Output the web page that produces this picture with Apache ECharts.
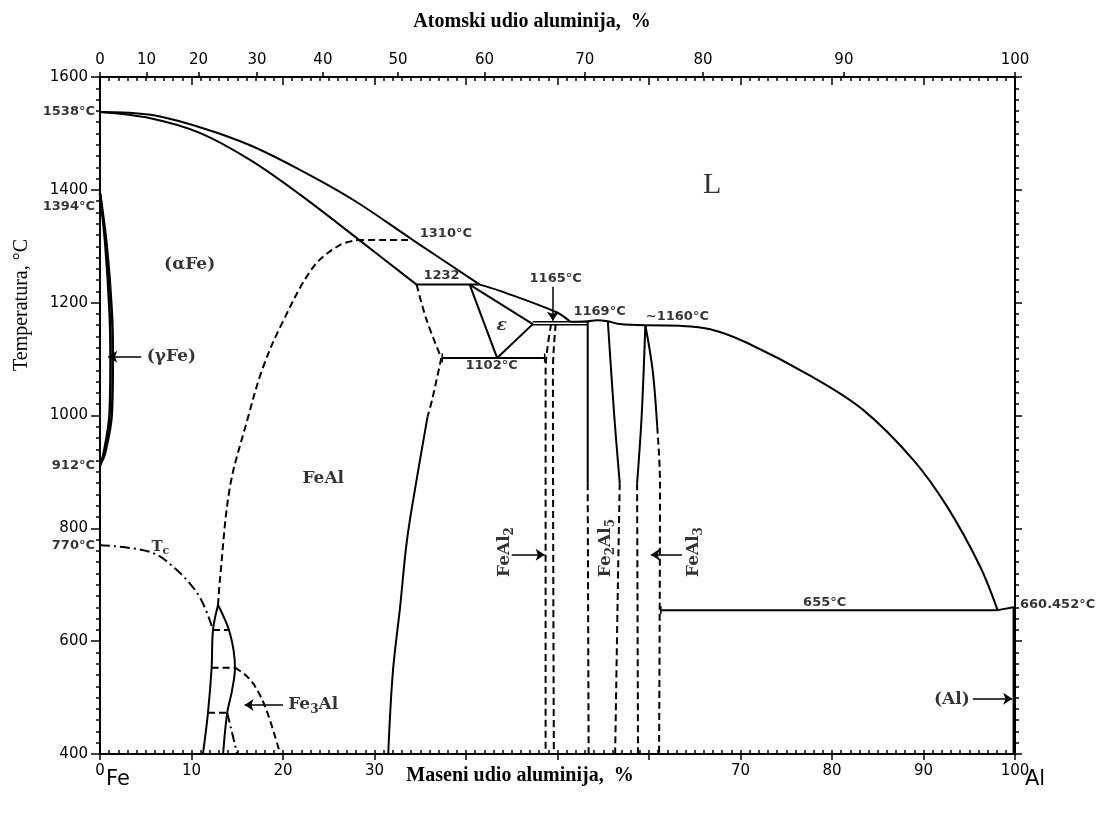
<!DOCTYPE html>
<html>
<head>
<meta charset="utf-8">
<title>Fe-Al fazni dijagram</title>
<script src="https://cdn.jsdelivr.net/npm/echarts@6/dist/echarts.min.js"></script>
<style>
html, body { margin: 0; background: #fff; }
#chart { width: 1111px; height: 814px; }
</style>
</head>
<body>
<div id="chart"></div>
<script>
// mass % Al on x, temperature in °C on y
const liquidusFe = [[0, 1538], [5.5, 1533], [10.9, 1511], [16.4, 1479], [21.9, 1435], [27.7, 1382], [34.2, 1311], [41.5, 1232]];
const liquidusEps = [[41.5, 1232], [43.7, 1221], [49.9, 1183], [51.4, 1166]];
const liquidusMid = [[51.4, 1166], [53.3, 1167], [54.3, 1169], [55.5, 1167], [56.8, 1162], [59.6, 1160]];
const liquidusAl = [[59.6, 1160], [63.4, 1159], [66.7, 1153], [70.7, 1129], [77.9, 1068], [83.4, 1010], [88.9, 921], [92.6, 838], [96.2, 732], [98.1, 655]];
const solidusFe = [[0, 1538], [5.5, 1527], [10.9, 1501], [16.4, 1453], [21.9, 1391], [28.1, 1314], [34.6, 1232]];

const line1310 = [[28.1, 1311], [34.2, 1311]];
const line1232 = [[34.6, 1232], [41.5, 1232]];
const line1102 = [[37.4, 1102], [48.6, 1102]];
const line1165 = [[47.3, 1166], [53.3, 1166]];
const line1161 = [[47.3, 1161], [53.3, 1161]];
const line655 = [[61.3, 655], [98.1, 655]];
const meltAl = [[98.1, 655], [100, 660.452]];
const solvusAl = [[99.9, 400], [99.9, 660.452]];

const epsLeft = [[40.4, 1232], [43.4, 1102]];
const epsRight = [[43.4, 1102], [47.3, 1162]];
const epsTop = [[40.4, 1232], [47.3, 1162]];

const feAlUpperDash = [[34.6, 1232], [35.7, 1169], [37.3, 1102]];
const feAlLowerDash = [[37.3, 1102], [36.3, 1028], [35.8, 998]];
const feAlSolid = [[35.8, 998], [34.6, 886], [33.55, 779], [32.8, 661], [32.0, 544], [31.5, 400]];

const orderDome = [[12.9, 664], [13.1, 708], [14.2, 873], [16.1, 992], [17.7, 1080], [19.7, 1157], [23.3, 1263], [26.2, 1302], [28.1, 1311]];

const fe3AlLeft = [[12.9, 664], [12.35, 620], [12.2, 553], [11.8, 473], [11.25, 400]];
const fe3AlRight = [[12.9, 664], [14.2, 614], [14.75, 553], [14.4, 510], [13.9, 473], [13.45, 400]];
const fe3AlDash1 = [[12.35, 620], [14.15, 620]];
const fe3AlDash2 = [[12.2, 553], [14.75, 553]];
const fe3AlCurve = [[14.75, 553], [16.1, 537], [17.2, 513], [18.3, 473], [19.7, 400]];
const fe3AlDash3 = [[11.8, 473], [13.9, 473]];
const curieLine = [[0, 770], [5.5, 758], [8.4, 726], [10.9, 678], [12.35, 620]];
const curieLower = [[13.9, 473], [15.0, 400]];

const gammaOuter = [[0, 1394], [0.75, 1299], [1.3, 1182], [1.4, 1104], [1.3, 1004], [0.55, 933], [0, 912]];
const gammaInner = [[0, 1394], [0.6, 1299], [1.05, 1182], [1.15, 1104], [1.05, 1004], [0.4, 933], [0, 912]];

const feAl2Left = [[49.3, 1162], [48.9, 1120], [48.7, 1080], [48.7, 400]];
const feAl2Right = [[49.8, 1162], [49.6, 1120], [49.5, 1080], [49.6, 400]];
const fe2Al5LeftSolid = [[53.3, 1166], [53.3, 880]];
const fe2Al5LeftDash = [[53.3, 880], [53.4, 400]];
const fe2Al5RightSolid = [[55.5, 1167], [56.2, 1000], [56.8, 880]];
const fe2Al5RightDash = [[56.8, 880], [56.6, 700], [56.3, 400]];
const feAl3LeftSolid = [[59.6, 1160], [59.2, 1000], [58.7, 880]];
const feAl3LeftDash = [[58.7, 880], [58.8, 400]];
const feAl3RightSolid = [[59.6, 1160], [60.4, 1080], [60.9, 980]];
const feAl3RightDash = [[60.9, 980], [61.2, 880], [61.1, 400]];

const endTicks = [
  [[37.4, 1094], [37.4, 1110]],
  [[48.6, 1094], [48.6, 1110]],
  [[61.3, 648], [61.3, 662]]
];

// arrows: from [w, T] to [w, T]
const arrows = [
  [4.5, 1104, 0.9, 1104],
  [20.0, 487, 15.8, 487],
  [95.4, 498, 99.7, 498],
  [45.0, 753, 48.6, 753],
  [63.6, 753, 60.2, 753],
  [49.5, 1228, 49.5, 1168]
];

// text, w, T, position, kind, offset, rotate
const annotations = [
  ['1538°C', 0, 1538, 'left', 'num', [0, 0], 0],
  ['1394°C', 0, 1394, 'left', 'num', [0, 13], 0],
  ['912°C', 0, 912, 'left', 'num', [0, 0], 0],
  ['770°C', 0, 770, 'left', 'num', [0, 0], 0],
  ['660.452°C', 100, 660.452, 'right', 'num', [0, -2], 0],
  ['1310°C', 34.4, 1311, 'right', 'num', [0, -6], 0],
  ['1232', 34.8, 1232, 'right', 'num', [0, -9], 0],
  ['1165°C', 49.8, 1242, 'inside', 'num', [0, 0], 0],
  ['1102°C', 42.8, 1089, 'inside', 'num', [0, 0], 0],
  ['1169°C', 54.6, 1185, 'inside', 'num', [0, 0], 0],
  ['~1160°C', 63.1, 1176, 'inside', 'num', [0, 0], 0],
  ['655°C', 79.2, 669, 'inside', 'num', [0, 0], 0],
  ['L', 66.9, 1409, 'inside', 'big', [0, 0], 0],
  ['(αFe)', 9.8, 1267, 'inside', 'phase', [0, 0], 0],
  ['(γFe)', 7.8, 1104, 'inside', 'phase', [0, 0], 0],
  ['FeAl', 24.4, 889, 'inside', 'phase', [0, 0], 0],
  ['ε', 43.9, 1160, 'inside', 'eps', [0, 0], 0],
  ['T{s|c}', 6.6, 767, 'inside', 'tc', [0, 0], 0],
  ['Fe{s|3}Al', 23.3, 487, 'inside', 'phase', [0, 0], 0],
  ['(Al)', 93.1, 496, 'inside', 'phase', [0, 0], 0],
  ['FeAl{s|2}', 44.2, 758, 'inside', 'phase', [0, 0], 90],
  ['Fe{s|2}Al{s|5}', 55.3, 765, 'inside', 'phase', [0, 0], 90],
  ['FeAl{s|3}', 64.9, 758, 'inside', 'phase', [0, 0], 90]
];

// bottom tick labels hidden behind the axis title
const massHiddenLabels = [40, 50, 60];

// top axis: atomic % Al, placed at the equivalent mass %
const atomicLabels = [0, 10, 20, 30, 40, 50, 60, 70, 80, 90, 100];
const M_AL = 26.98, M_FE = 55.845;
const atomicPos = atomicLabels.map(a => 100 * a * M_AL / (a * M_AL + (100 - a) * M_FE));

const DASH = [7, 4];
const DASHDOT = [10, 4, 2, 4];
const black = '#000';

function curve(data, dash, smooth, width) {
  return {
    type: 'line',
    data: data,
    smooth: smooth ? 0.35 : false,
    showSymbol: false,
    symbol: 'none',
    silent: true,
    lineStyle: { color: black, width: width || 2, type: dash || 'solid' },
    z: 3
  };
}

const subStyle = { fontFamily: 'DejaVu Serif', fontWeight: 'bold', fontSize: 12, color: black, padding: [10, 0, 0, 0] };
const kinds = {
  num: { fontFamily: 'DejaVu Sans', fontSize: 13, fontWeight: 'bold', color: black },
  phase: { fontFamily: 'DejaVu Serif', fontSize: 17, fontWeight: 'bold', color: black, rich: { s: subStyle } },
  big: { fontFamily: 'Liberation Serif', fontSize: 30, color: black },
  eps: { fontFamily: 'DejaVu Serif', fontSize: 17, fontStyle: 'italic', fontWeight: 'bold', color: black },
  tc: { fontFamily: 'DejaVu Serif', fontSize: 15, fontWeight: 'bold', color: black, rich: { s: Object.assign({}, subStyle, { fontSize: 11, padding: [9, 0, 0, 0] }) } }
};

const labelData = annotations.map(a => ({
  value: [a[1], a[2]],
  label: Object.assign({
    show: true,
    formatter: a[0],
    position: a[3],
    distance: 5,
    offset: a[5],
    rotate: a[6]
  }, kinds[a[4]])
}));

const series = [
  curve(liquidusFe, null, true),
  curve(liquidusEps, null, true),
  curve(liquidusMid, null, true),
  curve(liquidusAl, null, true),
  curve(solidusFe, null, true),
  curve(line1310, DASH),
  curve(line1232),
  curve(line1102),
  curve(line1165, null, false, 1.5),
  curve(line1161, null, false, 1.5),
  curve(line655),
  curve(meltAl),
  curve(solvusAl, null, false, 3),
  curve(epsLeft),
  curve(epsRight),
  curve(epsTop),
  curve(feAlUpperDash, DASH, true),
  curve(feAlLowerDash, DASH, true),
  curve(feAlSolid, null, true),
  curve(orderDome, DASH, true),
  curve(fe3AlLeft, null, true),
  curve(fe3AlRight, null, true),
  curve(fe3AlDash1, DASH),
  curve(fe3AlDash2, DASH),
  curve(fe3AlCurve, DASH, true),
  curve(fe3AlDash3, DASH),
  curve(curieLine, DASHDOT, true),
  curve(curieLower, DASHDOT),
  curve(gammaOuter, null, true, 2.5),
  curve(gammaInner, null, true, 2.5),
  curve(feAl2Left, DASH, true),
  curve(feAl2Right, DASH, true),
  curve(fe2Al5LeftSolid),
  curve(fe2Al5LeftDash, DASH),
  curve(fe2Al5RightSolid, null, true),
  curve(fe2Al5RightDash, DASH, true),
  curve(feAl3LeftSolid, null, true),
  curve(feAl3LeftDash, DASH),
  curve(feAl3RightSolid, null, true),
  curve(feAl3RightDash, DASH, true)
];
endTicks.forEach(t => series.push(curve(t, null, false, 1.5)));

series.push({
  type: 'scatter',
  symbolSize: 0,
  silent: true,
  z: 5,
  itemStyle: { color: 'transparent' },
  data: labelData,
  markLine: {
    silent: true,
    animation: false,
    symbol: ['none', 'arrow'],
    symbolSize: 9,
    label: { show: false },
    lineStyle: { color: black, width: 1.5, type: 'solid' },
    data: arrows.map(a => [{ coord: [a[0], a[1]] }, { coord: [a[2], a[3]] }])
  }
});

const tickLine = { color: black, width: 1.5 };
const axisLine = { show: true, onZero: false, lineStyle: { color: black, width: 2 } };
const numFont = { color: black, fontFamily: 'DejaVu Sans', fontSize: 15 };

const option = {
  animation: false,
  backgroundColor: '#fff',
  grid: { left: 100, right: 96, top: 77, bottom: 60 },
  xAxis: [
    {
      type: 'value', position: 'bottom', min: 0, max: 100, interval: 10,
      axisLine: axisLine,
      axisTick: { show: true, inside: false, length: 6, lineStyle: tickLine },
      axisLabel: Object.assign({
        margin: 10,
        formatter: v => (massHiddenLabels.indexOf(v) >= 0 ? '' : String(v))
      }, numFont),
      splitLine: { show: false }
    },
    {
      type: 'value', position: 'bottom', min: 0, max: 100, interval: 1,
      axisLine: { show: false, onZero: false },
      axisTick: { show: true, inside: true, length: 4, lineStyle: tickLine },
      axisLabel: { show: false },
      splitLine: { show: false }
    },
    {
      type: 'value', position: 'top', min: 0, max: 100, interval: 10,
      axisLine: axisLine,
      axisTick: { show: true, inside: true, length: 8, lineStyle: tickLine },
      minorTick: { show: true, splitNumber: 10, length: 4, lineStyle: tickLine },
      axisLabel: { show: false },
      splitLine: { show: false }
    },
    {
      type: 'value', position: 'top', min: 0, max: 100,
      axisLine: { show: false, onZero: false },
      axisTick: { show: true, inside: false, length: 5, lineStyle: tickLine, customValues: atomicPos },
      axisLabel: Object.assign({
        margin: 9,
        customValues: atomicPos,
        formatter: function (v) {
          let best = 0;
          atomicPos.forEach((p, i) => { if (Math.abs(p - v) < Math.abs(atomicPos[best] - v)) best = i; });
          return String(atomicLabels[best]);
        }
      }, numFont),
      splitLine: { show: false }
    }
  ],
  yAxis: [
    {
      type: 'value', position: 'left', min: 400, max: 1600, interval: 200,
      axisLine: axisLine,
      axisTick: { show: true, inside: false, length: 9, lineStyle: tickLine },
      minorTick: { show: true, splitNumber: 10, length: 4, lineStyle: tickLine },
      axisLabel: Object.assign({ margin: 12, formatter: v => String(v) }, numFont),
      splitLine: { show: false }
    },
    {
      type: 'value', position: 'right', min: 400, max: 1600, interval: 200,
      axisLine: axisLine,
      axisTick: { show: true, inside: false, length: 7, lineStyle: tickLine },
      minorTick: { show: true, splitNumber: 10, length: 4, lineStyle: tickLine },
      axisLabel: { show: false },
      splitLine: { show: false }
    }
  ],
  graphic: [
    {
      type: 'text', x: 532, y: 22,
      style: { text: 'Atomski udio aluminija,  %', fill: black, font: 'bold 20px "Liberation Serif"', align: 'center', verticalAlign: 'middle' }
    },
    {
      type: 'text', x: 520, y: 776,
      style: { text: 'Maseni udio aluminija,  %', fill: black, font: 'bold 20px "Liberation Serif"', align: 'center', verticalAlign: 'middle' }
    },
    {
      type: 'text', x: 22, y: 305, rotation: Math.PI / 2,
      style: { text: 'Temperatura, °C', fill: black, font: '20px "Liberation Serif"', align: 'center', verticalAlign: 'middle' }
    },
    {
      type: 'text', x: 118, y: 780,
      style: { text: 'Fe', fill: black, font: '21px "DejaVu Sans"', align: 'center', verticalAlign: 'middle' }
    },
    {
      type: 'text', x: 1035, y: 780,
      style: { text: 'Al', fill: black, font: '21px "DejaVu Sans"', align: 'center', verticalAlign: 'middle' }
    }
  ],
  series: series
};

const chart = echarts.init(document.getElementById('chart'));
chart.setOption(option);
</script>
</body>
</html>
